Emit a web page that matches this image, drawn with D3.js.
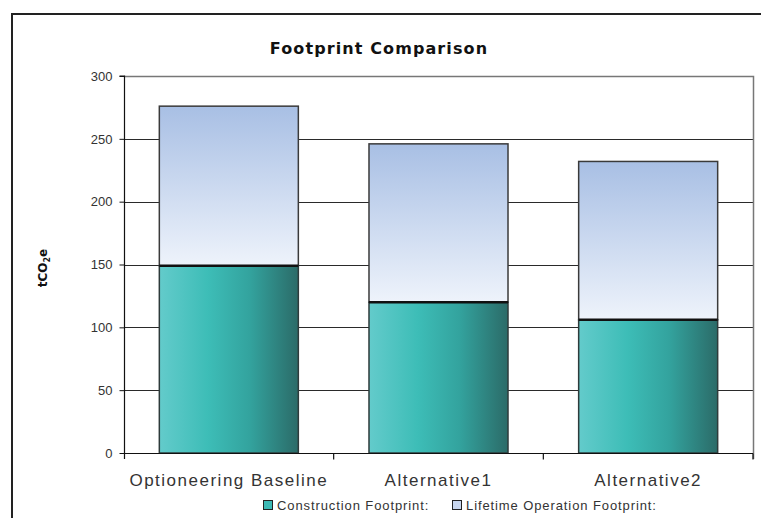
<!DOCTYPE html>
<html>
<head>
<meta charset="utf-8">
<script src="https://cdn.jsdelivr.net/npm/d3@7"></script>
<style>
  html, body { margin: 0; padding: 0; background: #fff; }
  svg { display: block; }
</style>
</head>
<body>
<svg id="chart" width="761" height="518"></svg>
<script>
const categories = ["Optioneering Baseline", "Alternative1", "Alternative2"];
const construction = [149, 120, 106];
const lifetime = [127, 126, 126];
const yTicks = [0, 50, 100, 150, 200, 250, 300];
const seriesNames = ["Construction Footprint:", "Lifetime Operation Footprint:"];

(function () {
const svg = d3.select("#chart");
const defs = svg.append("defs");

const gC = defs.append("linearGradient").attr("id", "gradC")
  .attr("x1", "0").attr("x2", "1").attr("y1", "0").attr("y2", "0");
gC.append("stop").attr("offset", "0%").attr("stop-color", "#63cbcb");
gC.append("stop").attr("offset", "35%").attr("stop-color", "#3dbdb7");
gC.append("stop").attr("offset", "65%").attr("stop-color", "#33a39e");
gC.append("stop").attr("offset", "100%").attr("stop-color", "#2b6b68");

const gL = defs.append("linearGradient").attr("id", "gradL")
  .attr("x1", "0").attr("x2", "0").attr("y1", "0").attr("y2", "1");
gL.append("stop").attr("offset", "0%").attr("stop-color", "#a8bfe4");
gL.append("stop").attr("offset", "100%").attr("stop-color", "#eef3fb");

// outer frame
svg.append("path").attr("d", "M12,518 V14 H761")
  .attr("fill", "none").attr("stroke", "#222").attr("stroke-width", 2);

const pLeft = 124, pRight = 753, pTop = 76, pBottom = 453;
const y = d3.scaleLinear().domain([0, 300]).range([pBottom, pTop]);
const x = d3.scaleBand().domain(categories).range([pLeft, pRight])
  .paddingInner(0.337).paddingOuter(0.1685);

// gridlines
svg.append("g").selectAll("line").data(yTicks.filter(d => d > 0 && d < 300)).join("line")
  .attr("x1", pLeft).attr("x2", pRight)
  .attr("y1", d => Math.round(y(d)) + 0.5).attr("y2", d => Math.round(y(d)) + 0.5)
  .attr("stroke", "#2a2a2a").attr("stroke-width", 1);

// plot border top & right
svg.append("path")
  .attr("d", `M${pLeft},${Math.round(y(300)) + 0.5} H${pRight + 0.5} V${pBottom + 6}`)
  .attr("fill", "none").attr("stroke", "#777").attr("stroke-width", 1.5);

// stacked bars
const stackData = categories.map((c, i) => ({ cat: c, c: construction[i], l: lifetime[i] }));
const bars = svg.append("g");
bars.selectAll("rect.life").data(stackData).join("rect").attr("class", "life")
  .attr("x", d => x(d.cat)).attr("width", x.bandwidth())
  .attr("y", d => y(d.c + d.l)).attr("height", d => y(d.c) - y(d.c + d.l))
  .attr("fill", "url(#gradL)").attr("stroke", "#3a3a3a").attr("stroke-width", 1.5);
bars.selectAll("rect.cons").data(stackData).join("rect").attr("class", "cons")
  .attr("x", d => x(d.cat)).attr("width", x.bandwidth())
  .attr("y", d => y(d.c)).attr("height", d => y(0) - y(d.c))
  .attr("fill", "url(#gradC)").attr("stroke", "#2e3b3b").attr("stroke-width", 1.5);
bars.selectAll("line.sep").data(stackData).join("line").attr("class", "sep")
  .attr("x1", d => x(d.cat)).attr("x2", d => x(d.cat) + x.bandwidth())
  .attr("y1", d => y(d.c)).attr("y2", d => y(d.c))
  .attr("stroke", "#111").attr("stroke-width", 2.5);

// y axis
const yAxis = d3.axisLeft(y).tickValues(yTicks).tickSize(5).tickPadding(7);
const gy = svg.append("g").attr("transform", `translate(${pLeft + 0.5},0)`).call(yAxis);
gy.select(".domain").attr("d", `M-5,${y(300)}H0V${pBottom + 6}`).attr("stroke", "#111").attr("stroke-width", 1.2);
gy.selectAll(".tick line").attr("stroke", "#111");
gy.selectAll(".tick text").attr("font-family", "Liberation Sans, Arial, sans-serif")
  .attr("font-size", 13).attr("fill", "#333");

// x axis
const xAxis = d3.axisBottom(x).tickSize(0).tickPadding(20);
const gx = svg.append("g").attr("transform", `translate(0,${pBottom + 0.5})`).call(xAxis);
gx.select(".domain").attr("d", `M${pLeft},0H${pRight}`).attr("stroke", "#111").attr("stroke-width", 1.2);
gx.selectAll(".tick text").attr("font-family", "Liberation Sans, Arial, sans-serif")
  .attr("font-size", 17).attr("letter-spacing", 1.5).attr("fill", "#333");
const step = x.step();
const sepX = d3.range(1, categories.length + 1).map(i => pLeft + i * step);
gx.selectAll("line.ctick").data(sepX).join("line").attr("class", "ctick")
  .attr("x1", d => d).attr("x2", d => d).attr("y1", 0).attr("y2", 6)
  .attr("stroke", "#111").attr("stroke-width", 1.2);

// title
svg.append("text").attr("x", 379).attr("y", 54).attr("text-anchor", "middle")
  .attr("font-family", "DejaVu Sans, Verdana, sans-serif").attr("font-weight", "bold")
  .attr("font-size", 16).attr("letter-spacing", 1.1).attr("fill", "#111").text("Footprint Comparison");

// y label
const yl = svg.append("text").attr("transform", "translate(47,268) rotate(-90)")
  .attr("text-anchor", "middle")
  .attr("font-family", "DejaVu Sans, Verdana, sans-serif").attr("font-weight", "bold")
  .attr("font-size", 12).attr("fill", "#111");
yl.append("tspan").text("tCO");
yl.append("tspan").attr("font-size", 8).attr("dy", 3).text("2");
yl.append("tspan").attr("dy", -3).text("e");

// legend
const legX = [263, 452];
const leg = svg.append("g").selectAll("g").data(seriesNames).join("g")
  .attr("transform", (d, i) => `translate(${legX[i]},500)`);
leg.append("rect").attr("x", 0.5).attr("y", 0.5).attr("width", 9).attr("height", 9)
  .attr("fill", (d, i) => i === 0 ? "#3cb9b4" : "#c8d6ee").attr("stroke", "#222").attr("stroke-width", 1);
leg.append("text").attr("x", 14).attr("y", 9.5)
  .attr("font-family", "Liberation Sans, Arial, sans-serif").attr("font-size", 13)
  .attr("letter-spacing", 0.9).attr("fill", "#333").text(d => d);
})();
</script>
</body>
</html>
